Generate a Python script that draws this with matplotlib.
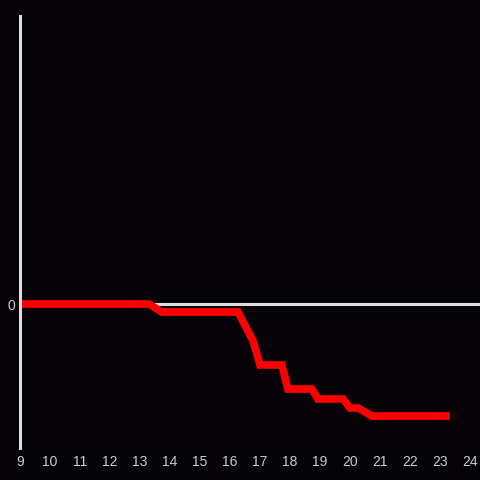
import matplotlib
matplotlib.use("Agg")
import matplotlib.pyplot as plt

# Hour of day and value (red step-ish line)
hours = [9.0, 13.3, 13.73, 16.27, 16.77, 17.0, 17.73, 17.93, 18.73, 18.93,
         19.77, 20.0, 20.27, 20.73, 23.33]
values = [0, 0, -8, -8, -37, -61, -61, -85, -85, -95, -95, -104, -104, -112, -112]
xticks = list(range(9, 25))

bg = "#050308"
fg = "#dddddd"

plt.rcParams["font.family"] = ["Liberation Sans", "DejaVu Sans"]

fig = plt.figure(figsize=(4.8, 4.8), dpi=100, facecolor=bg)
ax = fig.add_axes([20 / 480, 32 / 480, 460 / 480, 432 / 480], facecolor=bg)

ax.axhline(0, color=fg, lw=2.2, zorder=1)
ax.plot(hours, values, color="#ff0000", lw=5.5, solid_joinstyle="miter",
        solid_capstyle="butt", zorder=2)

ax.set_xlim(9, 9 + 460 / 30)
ax.set_ylim(-144, 288)
ax.set_xticks(xticks)
ax.set_xticklabels([str(t) for t in xticks])
ax.set_yticks([0])
ax.tick_params(length=0, colors="#cccccc", labelsize=10)
ax.tick_params(axis="x", pad=5)
ax.tick_params(axis="y", pad=3.5)

for s in ["top", "right", "bottom"]:
    ax.spines[s].set_visible(False)
ax.spines["left"].set_color(fg)
ax.spines["left"].set_linewidth(2.2)

fig.savefig("out.png", dpi=100, facecolor=bg)
